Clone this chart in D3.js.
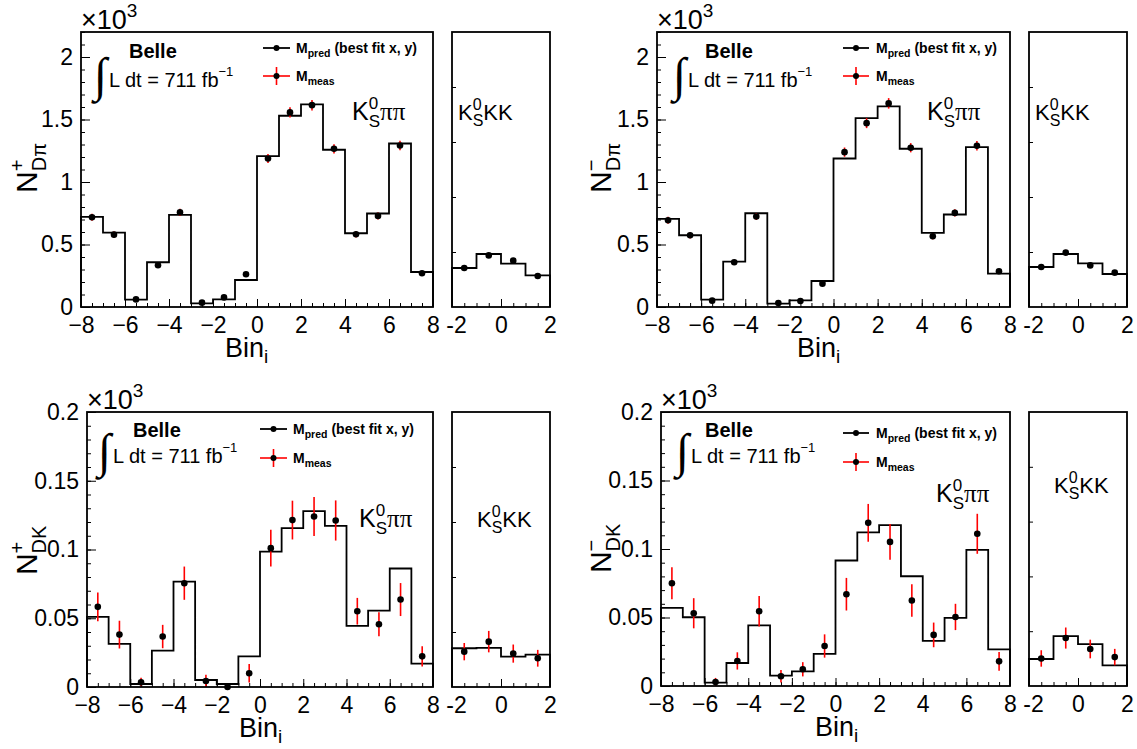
<!DOCTYPE html>
<html>
<head>
<meta charset="utf-8">
<script src="https://cdn.jsdelivr.net/npm/d3@7"></script>
<style>
  body { margin: 0; background: #fff; }
  svg text { font-family: "Liberation Sans", Arial, Helvetica, sans-serif; fill: #000; }
</style>
</head>
<body>
<svg id="chart" width="1137" height="749"></svg>
<script>
// lower edges of the bins
var mainBins = [-8, -7, -6, -5, -4, -3, -2, -1, 0, 1, 2, 3, 4, 5, 6, 7]
var kkBins = [-2, -1, 0, 1]

// values in units of 10^3
var dpiPlusPred = [0.721, 0.595, 0.059, 0.358, 0.737, 0.029, 0.061, 0.216, 1.207, 1.530, 1.621, 1.258, 0.590, 0.748, 1.308, 0.280]
var dpiPlusMeas = [0.718, 0.579, 0.061, 0.334, 0.758, 0.035, 0.077, 0.262, 1.188, 1.557, 1.615, 1.266, 0.582, 0.729, 1.292, 0.270]
var dpiPlusErr = [0.028, 0.025, 0.009, 0.019, 0.029, 0.007, 0.010, 0.017, 0.036, 0.041, 0.042, 0.037, 0.025, 0.028, 0.038, 0.017]
var dpiPlusKKPred = [0.312, 0.424, 0.347, 0.253]
var dpiPlusKKMeas = [0.312, 0.413, 0.371, 0.248]
var dpiPlusKKErr = [0.018, 0.021, 0.020, 0.016]

var dpiMinusPred = [0.705, 0.574, 0.059, 0.363, 0.750, 0.027, 0.053, 0.208, 1.188, 1.511, 1.605, 1.266, 0.593, 0.740, 1.279, 0.267]
var dpiMinusMeas = [0.694, 0.574, 0.051, 0.358, 0.724, 0.032, 0.048, 0.187, 1.239, 1.471, 1.629, 1.274, 0.566, 0.753, 1.290, 0.286]
var dpiMinusErr = [0.028, 0.025, 0.008, 0.020, 0.028, 0.007, 0.008, 0.015, 0.037, 0.040, 0.042, 0.037, 0.025, 0.029, 0.038, 0.018]
var dpiMinusKKPred = [0.320, 0.424, 0.349, 0.264]
var dpiMinusKKMeas = [0.320, 0.435, 0.333, 0.275]
var dpiMinusKKErr = [0.018, 0.022, 0.019, 0.017]

var dkPlusPred = [0.0510, 0.0313, 0.0022, 0.0265, 0.0767, 0.0051, 0.0022, 0.0223, 0.0985, 0.1155, 0.1279, 0.1172, 0.0444, 0.0556, 0.0862, 0.0170]
var dkPlusMeas = [0.0583, 0.0381, 0.0034, 0.0367, 0.0755, 0.0044, 0.0000, 0.0100, 0.1010, 0.1214, 0.1240, 0.1211, 0.0551, 0.0456, 0.0636, 0.0223]
var dkPlusErr = [0.0104, 0.0101, 0.0033, 0.0085, 0.0121, 0.0046, 0.0000, 0.0067, 0.0133, 0.0141, 0.0142, 0.0146, 0.0097, 0.0087, 0.0120, 0.0073]
var dkPlusKKPred = [0.0282, 0.0285, 0.0221, 0.0235]
var dkPlusKKMeas = [0.0257, 0.0330, 0.0243, 0.0209]
var dkPlusKKErr = [0.0063, 0.0078, 0.0066, 0.0061]

var dkMinusPred = [0.0570, 0.0502, 0.0024, 0.0168, 0.0443, 0.0076, 0.0107, 0.0234, 0.0916, 0.1121, 0.1174, 0.0801, 0.0329, 0.0497, 0.0994, 0.0268]
var dkMinusMeas = [0.0750, 0.0531, 0.0029, 0.0183, 0.0546, 0.0071, 0.0122, 0.0292, 0.0670, 0.1191, 0.1052, 0.0624, 0.0373, 0.0504, 0.1111, 0.0180]
var dkMinusErr = [0.0117, 0.0110, 0.0030, 0.0063, 0.0111, 0.0045, 0.0052, 0.0085, 0.0119, 0.0138, 0.0131, 0.0119, 0.0090, 0.0096, 0.0146, 0.0068]
var dkMinusKKPred = [0.0197, 0.0364, 0.0306, 0.0150]
var dkMinusKKMeas = [0.0201, 0.0350, 0.0270, 0.0211]
var dkMinusKKErr = [0.0060, 0.0077, 0.0068, 0.0060]

var xTicksMain = [-8, -6, -4, -2, 0, 2, 4, 6, 8]
var xTicksSide = [-2, 0, 2]
var yTicksDpi = [0, 0.5, 1, 1.5, 2]
var yTicksDk = [0, 0.05, 0.1, 0.15, 0.2]

var svg = d3.select('#chart')

// base text + stacked sup / sub + tail, all real text
function scriptText(g, x, y, o) {
  var size = o.size, ss = o.scriptSize || size * 0.68
  var weight = o.weight || 'normal'
  var t = g.append('text').attr('x', x).attr('y', y)
    .attr('font-size', size).attr('font-weight', weight).text(o.base)
  var w = t.node().getComputedTextLength()
  var sw = 0
  if (o.sup) {
    var s = g.append('text').attr('x', x + w + (o.supDx || 0)).attr('y', y - size * (o.supRaise || 0.42))
      .attr('font-size', ss).attr('font-weight', weight).text(o.sup)
    sw = Math.max(sw, s.node().getComputedTextLength() + (o.supDx || 0))
  }
  if (o.sub) {
    var b = g.append('text').attr('x', x + w).attr('y', y + size * (o.subDrop || 0.25))
      .attr('font-size', ss).attr('font-weight', weight).text(o.sub)
    sw = Math.max(sw, b.node().getComputedTextLength())
  }
  if (o.tail) {
    g.append('text').attr('x', x + w + sw + (o.tailDx || 0)).attr('y', y)
      .attr('font-size', size).attr('font-weight', weight)
      .attr('style', o.tailFont ? 'font-family:' + o.tailFont : null)
      .text(o.tail)
  }
}

var panels = [
  { main: { l: 81, r: 433, t: 32, b: 307 }, side: { l: 452, r: 550 }, ymax: 2.2, yTicks: yTicksDpi, minor: 0.1,
    pred: dpiPlusPred, meas: dpiPlusMeas, err: dpiPlusErr, kkPred: dpiPlusKKPred, kkMeas: dpiPlusKKMeas, kkErr: dpiPlusKKErr,
    sign: '+', sub: 'D\u03c0', ylab: { x: 37, y: 168 }, binx: 225,
    belle: [48, 26], lumi: [28, 55], leg: [182, 209, 16, 44, 215], kspp: [271, 88], kskk: [6, 88] },
  { main: { l: 657, r: 1010, t: 32, b: 307 }, side: { l: 1029, r: 1127 }, ymax: 2.2, yTicks: yTicksDpi, minor: 0.1,
    pred: dpiMinusPred, meas: dpiMinusMeas, err: dpiMinusErr, kkPred: dpiMinusKKPred, kkMeas: dpiMinusKKMeas, kkErr: dpiMinusKKErr,
    sign: '\u2212', sub: 'D\u03c0', ylab: { x: 611, y: 168 }, binx: 797,
    belle: [48, 26], lumi: [31, 55], leg: [186, 212, 16, 44, 219], kspp: [270, 88], kskk: [6, 88] },
  { main: { l: 87, r: 433, t: 412, b: 687 }, side: { l: 452, r: 550 }, ymax: 0.2, yTicks: yTicksDk, minor: 0.01,
    pred: dkPlusPred, meas: dkPlusMeas, err: dkPlusErr, kkPred: dkPlusKKPred, kkMeas: dkPlusKKMeas, kkErr: dkPlusKKErr,
    sign: '+', sub: 'DK', ylab: { x: 37, y: 550 }, binx: 239,
    belle: [46, 25], lumi: [26, 51], leg: [173, 200, 17, 46, 206], kspp: [272, 115], kskk: [25, 115] },
  { main: { l: 661, r: 1010, t: 412, b: 686 }, side: { l: 1029, r: 1127 }, ymax: 0.2, yTicks: yTicksDk, minor: 0.01,
    pred: dkMinusPred, meas: dkMinusMeas, err: dkMinusErr, kkPred: dkMinusKKPred, kkMeas: dkMinusKKMeas, kkErr: dkMinusKKErr,
    sign: '\u2212', sub: 'DK', ylab: { x: 611, y: 548 }, binx: 815,
    belle: [44, 25], lumi: [30, 51], leg: [182, 208, 21, 50, 215], kspp: [275, 90], kskk: [25, 81] }
]

function drawHist(g, x, y, edges, last, pred) {
  var pts = [[x(edges[0]), y(0)]]
  edges.forEach(function (e, i) { pts.push([x(e), y(pred[i])]) })
  pts.push([x(last), y(pred[pred.length - 1])])
  pts.push([x(last), y(0)])
  g.append('path')
    .attr('d', d3.line().curve(d3.curveStepAfter)(pts))
    .attr('fill', 'none').attr('stroke', '#000').attr('stroke-width', 1.8)
}

function drawPoints(g, x, y, edges, meas, err) {
  edges.forEach(function (e, i) {
    var cx = x(e + 0.5)
    if (err[i] > 0) {
      g.append('line').attr('x1', cx).attr('x2', cx)
        .attr('y1', y(Math.max(0, meas[i] - err[i]))).attr('y2', y(meas[i] + err[i]))
        .attr('stroke', '#ff0000').attr('stroke-width', 1.6)
    }
    g.append('circle').attr('cx', cx).attr('cy', y(meas[i])).attr('r', 3.3).attr('fill', '#000')
  })
}

function styleAxis(a, size) {
  a.select('.domain').remove()
  a.selectAll('.tick line').attr('stroke', '#000').attr('stroke-width', 1)
  a.selectAll('text').attr('font-size', size).attr('fill', '#000')
}

panels.forEach(function (p) {
  var g = svg.append('g')
  var m = p.main
  var x = d3.scaleLinear().domain([-8, 8]).range([m.l, m.r])
  var y = d3.scaleLinear().domain([0, p.ymax]).range([m.b, m.t])
  var xs = d3.scaleLinear().domain([-2, 2]).range([p.side.l, p.side.r])

  // main axes
  g.append('g').attr('transform', 'translate(0,' + m.b + ')')
    .call(d3.axisBottom(x).tickValues(d3.range(-8, 8.01, 0.5)).tickSizeInner(-4).tickSizeOuter(0).tickFormat(''))
    .call(function (a) { styleAxis(a, 23) })
  g.append('g').attr('transform', 'translate(0,' + m.b + ')')
    .call(d3.axisBottom(x).tickValues(xTicksMain).tickSizeInner(-8).tickSizeOuter(0).tickPadding(10))
    .call(function (a) { styleAxis(a, 23) })
  g.append('g').attr('transform', 'translate(' + m.l + ',0)')
    .call(d3.axisLeft(y).tickValues(d3.range(0, p.ymax + 1e-9, p.minor)).tickSizeInner(-4).tickSizeOuter(0).tickFormat(''))
    .call(function (a) { styleAxis(a, 23) })
  g.append('g').attr('transform', 'translate(' + m.l + ',0)')
    .call(d3.axisLeft(y).tickValues(p.yTicks).tickSizeInner(-9).tickSizeOuter(0).tickPadding(8).tickFormat(function (d) { return String(d) }))
    .call(function (a) { styleAxis(a, 23) })

  // side axes
  g.append('g').attr('transform', 'translate(0,' + m.b + ')')
    .call(d3.axisBottom(xs).tickValues(d3.range(-2, 2.01, 0.5)).tickSizeInner(-4).tickSizeOuter(0).tickFormat(''))
    .call(function (a) { styleAxis(a, 23) })
  g.append('g').attr('transform', 'translate(0,' + m.b + ')')
    .call(d3.axisBottom(xs).tickValues(xTicksSide).tickSizeInner(-8).tickSizeOuter(0).tickPadding(10).tickFormat(function (d) { return String(d) }))
    .call(function (a) {
      styleAxis(a, 23)
      a.selectAll('text').attr('dx', function (d) { return d < 0 ? 4 : 0 })
    })
  g.append('g').attr('transform', 'translate(' + p.side.l + ',0)')
    .call(d3.axisLeft(y).tickValues([1, 2, 3, 4].map(function (k) { return p.ymax * k / 5 })).tickSizeInner(-4).tickSizeOuter(0).tickFormat(''))
    .call(function (a) { styleAxis(a, 23) })

  drawHist(g, x, y, mainBins, 8, p.pred)
  drawPoints(g, x, y, mainBins, p.meas, p.err)
  drawHist(g, xs, y, kkBins, 2, p.kkPred)
  drawPoints(g, xs, y, kkBins, p.kkMeas, p.kkErr)

  // frames
  g.append('rect').attr('x', m.l).attr('y', m.t).attr('width', m.r - m.l).attr('height', m.b - m.t)
    .attr('fill', 'none').attr('stroke', '#000').attr('stroke-width', 1.8)
  g.append('rect').attr('x', p.side.l).attr('y', m.t).attr('width', p.side.r - p.side.l).attr('height', m.b - m.t)
    .attr('fill', 'none').attr('stroke', '#000').attr('stroke-width', 1.8)

  // x10^3
  scriptText(g, m.l, m.t - 3, { base: '\u00d710', sup: '3', size: 27, scriptSize: 19, supRaise: 0.45 })

  // Belle + luminosity
  g.append('text').attr('x', m.l + p.belle[0]).attr('y', m.t + p.belle[1])
    .attr('font-size', 20).attr('font-weight', 'bold').text('Belle')
  g.append('text').attr('x', m.l + p.lumi[0] - 15).attr('y', m.t + p.lumi[1] + 4)
    .attr('font-size', 48).attr('style', 'font-family:"Liberation Serif", serif').text('\u222b')
  scriptText(g, m.l + p.lumi[0], m.t + p.lumi[1], { base: 'L dt = 711 fb', sup: '\u22121', size: 20, scriptSize: 13, supRaise: 0.55 })

  // legend
  var lg = p.leg, lx1 = m.l + lg[0], lx2 = m.l + lg[1], lxm = (lx1 + lx2) / 2
  g.append('line').attr('x1', lx1).attr('x2', lx2).attr('y1', m.t + lg[2]).attr('y2', m.t + lg[2])
    .attr('stroke', '#000').attr('stroke-width', 1.8)
  g.append('circle').attr('cx', lxm).attr('cy', m.t + lg[2]).attr('r', 3).attr('fill', '#000')
  g.append('line').attr('x1', lx1).attr('x2', lx2).attr('y1', m.t + lg[3]).attr('y2', m.t + lg[3])
    .attr('stroke', '#ff0000').attr('stroke-width', 1.6)
  g.append('line').attr('x1', lxm).attr('x2', lxm).attr('y1', m.t + lg[3] - 9).attr('y2', m.t + lg[3] + 9)
    .attr('stroke', '#ff0000').attr('stroke-width', 1.6)
  g.append('circle').attr('cx', lxm).attr('cy', m.t + lg[3]).attr('r', 3).attr('fill', '#000')
  scriptText(g, m.l + lg[4], m.t + lg[2] + 5, { base: 'M', sub: 'pred', tail: '(best fit x, y)', tailDx: 4, size: 14, scriptSize: 10.5, weight: 'bold', subDrop: 0.3 })
  scriptText(g, m.l + lg[4], m.t + lg[3] + 5, { base: 'M', sub: 'meas', size: 14, scriptSize: 10.5, weight: 'bold', subDrop: 0.3 })

  // channel labels
  scriptText(g, m.l + p.kspp[0], m.t + p.kspp[1], { base: 'K', sup: '0', sub: 'S', tail: '\u03c0\u03c0', size: 25, scriptSize: 17, supRaise: 0.45, subDrop: 0.28, tailFont: '"Liberation Serif", serif' })
  scriptText(g, p.side.l + p.kskk[0], m.t + p.kskk[1], { base: 'K', sup: '0', sub: 'S', tail: 'KK', size: 22, scriptSize: 16, supRaise: 0.45, subDrop: 0.28 })

  // x title
  scriptText(g, p.binx, m.b + 50, { base: 'Bin', sub: 'i', size: 27, scriptSize: 19, subDrop: 0.24 })

  // y title, rotated
  var yl = g.append('g').attr('transform', 'translate(' + p.ylab.x + ',' + p.ylab.y + ') rotate(-90)')
  var inner = yl.append('g')
  scriptText(inner, 0, 0, { base: 'N', sup: p.sign, sub: p.sub, size: 30, scriptSize: 20, supRaise: 0.42, subDrop: 0.3 })
  var bw = inner.node().getBBox().width
  inner.attr('transform', 'translate(' + (-bw / 2) + ',0)')
})
</script>
</body>
</html>
